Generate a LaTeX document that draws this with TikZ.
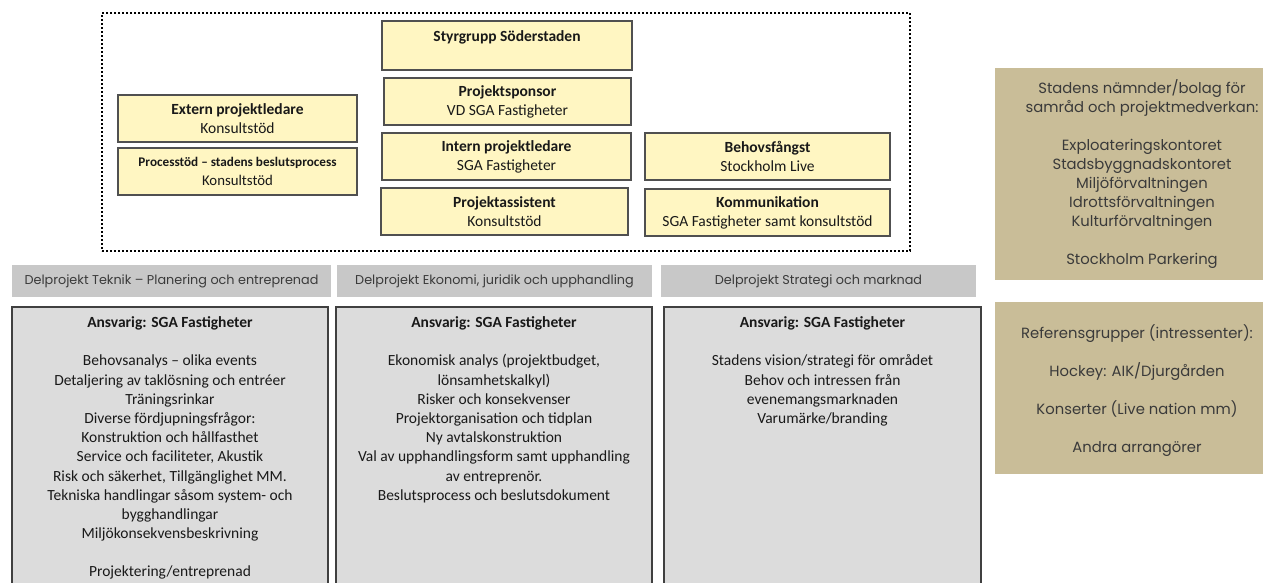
\documentclass[tikz,border=0pt]{standalone}
\usepackage{fontspec}
\setmainfont{Carlito}
\newfontfamily\gothic{Poppins}
\definecolor{yel}{HTML}{FFF6C2}
\definecolor{ybord}{HTML}{505050}
\definecolor{hdr}{HTML}{C8C8C8}
\definecolor{cgray}{HTML}{DCDCDC}
\definecolor{tan}{HTML}{C9BD98}
\definecolor{txtg}{HTML}{3A3A3A}
\tikzset{
  ybox/.style={draw=ybord, line width=1.6pt, fill=yel, inner sep=0pt, align=center,
    font=\fontsize{15.5}{19}\selectfont, text=black!90},
  hbox/.style={fill=hdr, inner sep=0pt, align=center, font=\gothic\fontsize{12.8}{16}\selectfont, text=txtg},
  cbox/.style={draw=black!75, line width=1.6pt, fill=cgray, inner sep=0pt},
  ctext/.style={anchor=north, align=center, inner sep=0pt, font=\fontsize{15.5}{19.2}\selectfont, text=black!90},
  tbox/.style={fill=tan, inner sep=0pt},
  ttext/.style={anchor=north, align=center, inner sep=0pt, font=\gothic\fontsize{14.8}{19}\selectfont, text=txtg},
}
\begin{document}
\begin{tikzpicture}[x=1pt,y=-1pt]
\useasboundingbox (0,0) rectangle (1263,582);
\fill[white] (0,0) rectangle (1263,582);
% dotted frame
\node[draw=black, line width=2pt, dash pattern=on 2pt off 2pt, minimum width=808pt, minimum height=238pt, inner sep=0pt] (frame) at (506,132) {};
% yellow boxes
\node[ybox, minimum width=250pt, minimum height=49pt] (styr) at (507,45.5) {\textbf{Styrgrupp Söderstaden}\\[-1pt]~};
\node[ybox, minimum width=247pt, minimum height=47pt] (spons) at (507.5,101.5) {\textbf{Projektsponsor}\\VD SGA Fastigheter};
\node[ybox, minimum width=249pt, minimum height=47pt] (intern) at (506.5,156.5) {\textbf{Intern projektledare}\\SGA Fastigheter};
\node[ybox, minimum width=247pt, minimum height=47pt] (assist) at (504.5,211.5) {\textbf{Projektassistent}\\Konsultstöd};
\node[ybox, minimum width=239pt, minimum height=47pt] (extern) at (237.5,118.5) {\textbf{Extern projektledare}\\Konsultstöd};
\node[ybox, minimum width=239pt, minimum height=47pt] (process) at (237.5,171.5) {{\fontsize{13.2}{19}\selectfont\textbf{Processtöd – stadens beslutsprocess}}\\{\fontsize{14.8}{19}\selectfont Konsultstöd}};
\node[ybox, minimum width=245pt, minimum height=47pt] (behov) at (767.5,156.5) {\textbf{Behovsfångst}\\Stockholm Live};
\node[ybox, minimum width=245pt, minimum height=47pt] (komm) at (767.5,212.5) {\textbf{Kommunikation}\\SGA Fastigheter samt konsultstöd};
% headers
\node[hbox, minimum width=319pt, minimum height=32pt] (h1) at (171.5,281) {Delprojekt Teknik – Planering och entreprenad};
\node[hbox, minimum width=315pt, minimum height=32pt] (h2) at (494.5,281) {Delprojekt Ekonomi, juridik och upphandling};
\node[hbox, minimum width=315pt, minimum height=32pt] (h3) at (818.5,281) {Delprojekt Strategi och marknad};
% content boxes
\node[cbox, minimum width=316pt, minimum height=290pt] (c1) at (170,452) {};
\node[cbox, minimum width=316pt, minimum height=290pt] (c2) at (494,452) {};
\node[cbox, minimum width=317pt, minimum height=290pt] (c3) at (822.5,452) {};
\node[ctext] (t1) at (170,316.5) {\textbf{Ansvarig: SGA Fastigheter}\\[19pt]
Behovsanalys – olika events\\Detaljering av taklösning och entréer\\Träningsrinkar\\Diverse fördjupningsfrågor:\\Konstruktion och hållfasthet\\Service och faciliteter, Akustik\\Risk och säkerhet, Tillgänglighet MM.\\Tekniska handlingar såsom system- och\\bygghandlingar\\Miljökonsekvensbeskrivning\\[19pt]Projektering/entreprenad};
\node[ctext] (t2) at (494,316.5) {\textbf{Ansvarig: SGA Fastigheter}\\[19pt]
Ekonomisk analys (projektbudget,\\lönsamhetskalkyl)\\Risker och konsekvenser\\Projektorganisation och tidplan\\Ny avtalskonstruktion\\Val av upphandlingsform samt upphandling\\av entreprenör.\\Beslutsprocess och beslutsdokument};
\node[ctext] (t3) at (822.5,316.5) {\textbf{Ansvarig: SGA Fastigheter}\\[19pt]
Stadens vision/strategi för området\\Behov och intressen från\\evenemangsmarknaden\\Varumärke/branding};
% tan boxes
\node[tbox, minimum width=268pt, minimum height=212pt] (n1) at (1129,174) {};
\node[ttext] (n1t) at (1142,79.5) {Stadens nämnder/bolag för\\samråd och projektmedverkan:\\[19pt]
Exploateringskontoret\\Stadsbyggnadskontoret\\Miljöförvaltningen\\Idrottsförvaltningen\\Kulturförvaltningen\\[19pt]Stockholm Parkering};
\node[tbox, minimum width=268pt, minimum height=172pt] (n2) at (1129,388) {};
\node[ttext, font=\gothic\fontsize{14.8}{38}\selectfont] (n2t) at (1137,324) {Referensgrupper (intressenter):\\Hockey: AIK/Djurgården\\Konserter (Live nation mm)\\Andra arrangörer};
\end{tikzpicture}
\end{document}
